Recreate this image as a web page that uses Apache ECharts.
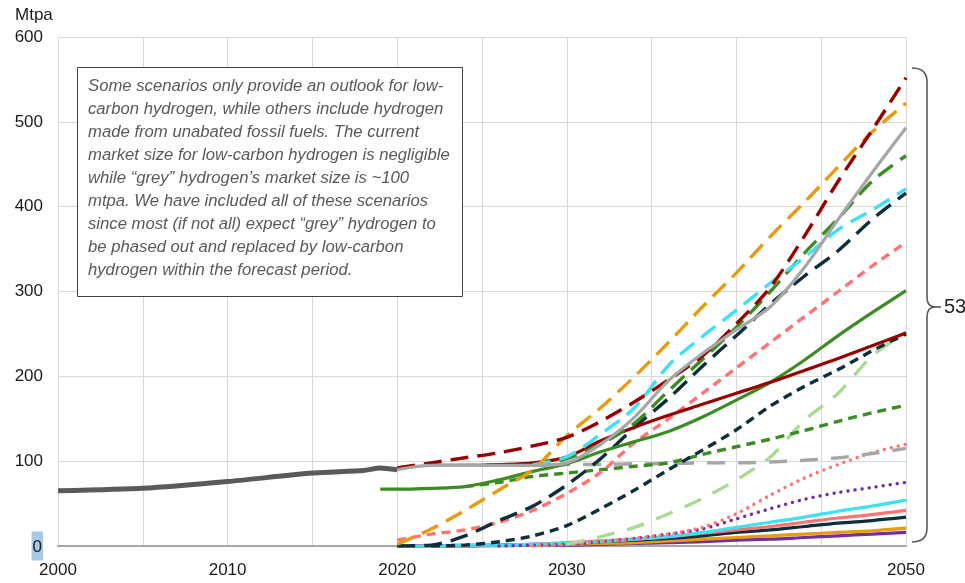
<!DOCTYPE html>
<html>
<head>
<meta charset="utf-8">
<script src="https://cdn.jsdelivr.net/npm/echarts@6/dist/echarts.min.js"></script>
<style>
html,body{margin:0;padding:0;background:#fff;}
#chart{width:965px;height:583px;}
</style>
</head>
<body>
<div id="chart"></div>
<script>
// Historical series
const histYears = [2000, 2005, 2010, 2015, 2018, 2019, 2020];
const histValues = [65, 68, 76, 86, 89, 92, 90];

// Scenario year grid
const YEARS = [2019,2020,2022,2024,2026,2028,2030,2032,2034,2036,2038,2040,2042,2044,2046,2048,2050];

const greySolid      = [null,90,95,95,95,95,98,120,152,195,227,255,282,328,385,440,493];
const greyDash       = [null,92,95,95,95,95,96,96,97,97,98,98,99,101,104,109,115];
const redDash        = [null,92,98,104,110,118,128,147,170,196,224,262,305,365,430,490,552];
const orangeDash     = [null,2,20,42,66,90,130,163,200,240,282,322,365,405,447,488,522];
const cyanDash       = [null,null,null,null,null,96,105,132,163,213,247,278,310,340,373,396,421];
const greenDash      = [null,null,null,null,null,95,103,120,145,183,220,258,300,345,386,430,460];
const navyDash       = [null,0,1,12,30,47,72,103,140,174,212,248,285,318,348,385,416];
const salmonDash     = [null,7,14,19,28,42,62,87,122,150,180,210,240,270,300,330,358];
const greenSolid     = [67,67,68,70,78,88,97,111,123,135,152,172,193,219,248,275,301];
const redSolid       = [null,null,95,95,96,98,105,124,140,154,167,180,193,207,221,236,251];
const navyShort      = [null,null,0,1,5,12,24,44,66,90,113,137,165,188,208,230,250];
const lightGreenDash = [null,null,null,null,null,null,2,11,22,38,56,78,105,148,180,224,252];
const greenShort     = [null,null,null,70,75,82,86,90,94,98,108,117,126,136,147,157,166];
const salmonDot      = [null,null,null,null,null,0,2,5,9,14,22,38,60,80,96,110,120];
const purpleDot      = [null,null,null,null,0,1,2,5,9,14,20,32,44,55,63,69,75];
const cyanSolid      = [null,0,0,1,1,2,3,5,8,11,16,22,28,34,41,47,54];
const salmonSolid    = [null,0,0,1,1,2,4,6,8,11,15,19,23,28,33,37,42];
const navySolid      = [null,0,0,0,1,2,3,5,7,9,12,16,19,23,27,30,34];
const orangeSolid    = [null,0,0,0,1,1,2,3,4,6,8,10,12,14,16,18,21];
const purpleSolid    = [null,0,0,0,0,1,1,2,3,4,5,7,8,10,12,14,16];

const yTicks = [0,100,200,300,400,500,600];
const xTickLabels = [2000,2010,2020,2030,2040,2050];

const noteText = [
  'Some scenarios only provide an outlook for low-',
  'carbon hydrogen, while others include hydrogen',
  'made from unabated fossil fuels. The current',
  'market size for low-carbon hydrogen is negligible',
  'while \u201cgrey\u201d hydrogen\u2019s market size is ~100',
  'mtpa. We have included all of these scenarios',
  'since most (if not all) expect \u201cgrey\u201d hydrogen to',
  'be phased out and replaced by low-carbon',
  'hydrogen within the forecast period.'
].join('\n');

const C = {
  grey:'#A6A6A6', hist:'#5A5A5A', red:'#990000', orange:'#E89B10', cyan:'#3FE0F2',
  green:'#3D8B25', navy:'#0C2F3B', salmon:'#FF7373', lgreen:'#A8DA94', purple:'#7030A0'
};
const LONG = [18, 9], LONG2 = [18, 13], SHORT = [9, 6], DOT = [0.1, 7];

function mk(vals, color, type, width, z, cap) {
  return {
    type: 'line',
    data: YEARS.map((y, i) => [y, vals[i]]),
    showSymbol: false, symbol: 'none',
    smooth: 0.3,
    connectNulls: false,
    z: z || 2,
    lineStyle: { color: color, width: width || 3.2, type: type || 'solid', cap: cap || 'butt' },
    silent: true
  };
}

const series = [
  mk(purpleSolid, C.purple, 'solid', 3.2, 2),
  mk(orangeSolid, C.orange, 'solid', 3.2, 2),
  mk(navySolid, C.navy, 'solid', 3.2, 2),
  mk(salmonSolid, C.salmon, 'solid', 3.2, 2),
  mk(cyanSolid, C.cyan, 'solid', 3.2, 2),
  mk(purpleDot, C.purple, DOT, 3.4, 2, 'round'),
  mk(salmonDot, C.salmon, DOT, 3.4, 2, 'round'),
  mk(lightGreenDash, C.lgreen, LONG2, 3.4, 2),
  mk(greyDash, C.grey, LONG2, 3.4, 2),
  mk(greenShort, C.green, SHORT, 3.4, 3),
  mk(navyShort, C.navy, SHORT, 3.4, 3),
  mk(salmonDash, C.salmon, SHORT, 3.4, 3),
  mk(navyDash, C.navy, LONG, 3.4, 3),
  mk(greenSolid, C.green, 'solid', 3.2, 3),
  mk(redSolid, C.red, 'solid', 3.2, 3),
  mk(greenDash, C.green, LONG, 3.4, 3),
  mk(cyanDash, C.cyan, LONG, 3.4, 3),
  mk(orangeDash, C.orange, LONG, 3.4, 3),
  mk(redDash, C.red, LONG, 3.4, 4),
  mk(greySolid, C.grey, 'solid', 3.2, 5),
  {
    type: 'line',
    data: histYears.map((y, i) => [y, histValues[i]]),
    showSymbol: false, symbol: 'none', smooth: 0.2, z: 6, silent: true,
    lineStyle: { color: C.hist, width: 5 }
  }
];

const BR = { stroke: '#595959', lineWidth: 1.6, fill: null };

const chart = echarts.init(document.getElementById('chart'), null, { renderer: 'canvas' });
chart.setOption({
  animation: false,
  backgroundColor: '#ffffff',
  grid: { left: 58, right: 59, top: 37, bottom: 37, containLabel: false },
  xAxis: {
    type: 'value', min: 2000, max: 2050, interval: 5,
    axisLine: { show: true, lineStyle: { color: '#A6A6A6', width: 2 } },
    axisTick: { show: false },
    splitLine: { show: true, lineStyle: { color: '#D9D9D9', width: 1 } },
    axisLabel: {
      margin: 16, fontSize: 17, color: '#1a1a1a', fontFamily: 'Liberation Sans, Arial, sans-serif',
      formatter: v => (xTickLabels.indexOf(v) >= 0 ? String(v) : '')
    }
  },
  yAxis: {
    type: 'value', min: yTicks[0], max: yTicks[yTicks.length - 1], interval: 100,
    axisLine: { show: false }, axisTick: { show: false },
    splitLine: { show: true, lineStyle: { color: '#D9D9D9', width: 1 } },
    axisLabel: {
      margin: 15, fontSize: 17, color: '#1a1a1a', fontFamily: 'Liberation Sans, Arial, sans-serif',
      formatter: v => (v === 0 ? '{hl|0}' : String(v)),
      rich: { hl: { backgroundColor: '#A9C9E2', padding: [7, 1, 5, 1], fontSize: 17, color: '#1a1a1a', fontFamily: 'Liberation Sans, Arial, sans-serif' } }
    }
  },
  graphic: [
    { type: 'text', x: 15, y: 7, style: { text: 'Mtpa', font: '17px "Liberation Sans", Arial, sans-serif', fill: '#1a1a1a' } },
    { type: 'rect', shape: { x: 77.5, y: 67.5, width: 385, height: 229 }, style: { fill: '#ffffff', stroke: '#404040', lineWidth: 1 }, z: 10 },
    { type: 'text', x: 88, y: 75, z: 11, style: { text: noteText, font: 'italic 16.7px "Liberation Sans", Arial, sans-serif', fill: '#595959', lineHeight: 23 } },
    { type: 'bezierCurve', z: 10, shape: { x1: 912, y1: 68, x2: 927, y2: 82, cpx1: 927, cpy1: 68 }, style: BR },
    { type: 'line', z: 10, shape: { x1: 927, y1: 82, x2: 927, y2: 297 }, style: BR },
    { type: 'bezierCurve', z: 10, shape: { x1: 927, y1: 297, x2: 935, y2: 307, cpx1: 927, cpy1: 307 }, style: BR },
    { type: 'line', z: 10, shape: { x1: 935, y1: 307, x2: 941, y2: 307 }, style: BR },
    { type: 'bezierCurve', z: 10, shape: { x1: 935, y1: 307, x2: 927, y2: 317, cpx1: 927, cpy1: 307 }, style: BR },
    { type: 'line', z: 10, shape: { x1: 927, y1: 317, x2: 927, y2: 528 }, style: BR },
    { type: 'bezierCurve', z: 10, shape: { x1: 927, y1: 528, x2: 912, y2: 542, cpx1: 927, cpy1: 542 }, style: BR },
    { type: 'text', x: 944, y: 307, z: 10, style: { text: '53', font: '20px "Liberation Sans", Arial, sans-serif', fill: '#262626', verticalAlign: 'middle' } }
  ],
  series: series
});
</script>
</body>
</html>
